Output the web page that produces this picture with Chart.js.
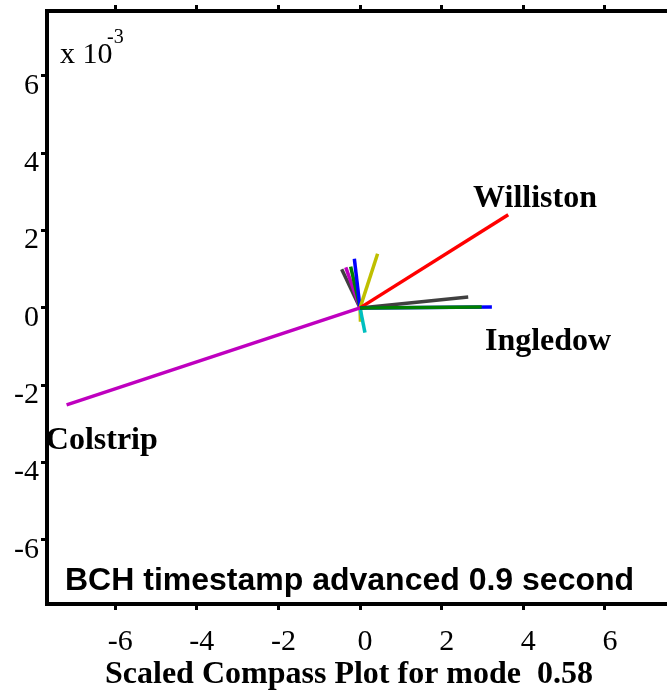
<!DOCTYPE html>
<html>
<head>
<meta charset="utf-8">
<script src="https://cdn.jsdelivr.net/npm/chart.js@4.4.1/dist/chart.umd.min.js"></script>
<style>
html, body { margin: 0; padding: 0; background: #fff; overflow: hidden; }
#wrap { width: 667px; height: 692px; position: relative; }
</style>
</head>
<body>
<div id="wrap"><canvas id="chart"></canvas></div>
<script>
// compass vectors (x 10^-3), first one is drawn on top
const vecNames = ['Ingledow', 'Ingledow b', 'Ingledow c', 'Williston', 'Colstrip', 'v6', 'v7', 'v8', 'v9', 'v10', 'v11', 'v12'];
const tipX = [2.98, 3.23, 2.65, 3.63, -7.19, 0.12, 0.01, 0.43, -0.14, -0.23, -0.35, -0.45];
const tipY = [0.02, 0.02, 0.28, 2.41, -2.51, -0.64, -0.36, 1.40, 1.27, 1.07, 1.05, 1.00];
const vecColors = ['#008000', '#0000ff', '#404040', '#ff0000', '#bf00bf', '#00bfbf', '#bfbf00', '#bfbf00', '#0000ff', '#008000', '#bf00bf', '#404040'];
const tickVals = [-6, -4, -2, 0, 2, 4, 6];

const xMin = -7.67, xMax = 7.52, yMin = -7.66, yMax = 7.68;

// text labels (data units, left / baseline)
const stationLabels = [
    { text: 'Williston', x: 2.77, y: 2.61 },
    { text: 'Ingledow', x: 3.06, y: -1.09 },
    { text: 'Colstrip', x: -7.70, y: -3.65 }
];

const datasets = vecNames.map((name, i) => ({
    label: name,
    data: [{ x: 0, y: 0 }, { x: tipX[i], y: tipY[i] }],
    borderColor: vecColors[i],
    borderWidth: 3.5,
    showLine: true,
    pointRadius: 0,
    fill: false
}));

const setTicks = (axis) => { axis.ticks = tickVals.map(v => ({ value: v })); };

// fixed axis sizes, no extra padding for the end labels
const fixSize = (w, h) => (s) => {
    if (w !== null) s.width = w;
    if (h !== null) s.height = h;
    s.paddingTop = 0; s.paddingBottom = 0; s.paddingLeft = 0; s.paddingRight = 0;
};

const gridOpts = {
    display: true,
    drawOnChartArea: false,
    drawTicks: true,
    tickLength: 6,
    tickWidth: 3,
    tickColor: '#000',
    color: '#000',
    lineWidth: 3
};

const textPlugin = {
    id: 'texts',
    afterDatasetsDraw(chart) {
        const { ctx, chartArea, scales } = chart;
        ctx.save();
        ctx.fillStyle = '#000';
        ctx.textAlign = 'left';
        ctx.textBaseline = 'alphabetic';
        ctx.font = 'bold 32px "Liberation Serif"';
        stationLabels.forEach(l => {
            ctx.fillText(l.text, scales.x.getPixelForValue(l.x), scales.y.getPixelForValue(l.y));
        });
        ctx.font = '30px "Liberation Serif"';
        ctx.fillText('x 10', chartArea.left + 13, chartArea.top + 52);
        ctx.font = '20px "Liberation Serif"';
        ctx.fillText('-3', chartArea.left + 60, chartArea.top + 32);
        ctx.font = 'bold 32px "Liberation Sans"';
        ctx.fillText('BCH timestamp advanced 0.9 second', chartArea.left + 18, chartArea.bottom - 14);
        ctx.restore();
    }
};

new Chart(document.getElementById('chart'), {
    type: 'scatter',
    data: { datasets },
    options: {
        responsive: true,
        maintainAspectRatio: false,
        animation: false,
        layout: { padding: 0 },
        plugins: { legend: { display: false }, tooltip: { enabled: false } },
        scales: {
            x: {
                type: 'linear', position: 'bottom', min: xMin, max: xMax,
                afterBuildTicks: setTicks,
                afterFit: fixSize(null, 88),
                grid: gridOpts,
                border: { display: true, color: '#000', width: 4 },
                ticks: { font: { family: 'Liberation Serif', size: 30 }, color: '#000', padding: 14, labelOffset: 5, maxRotation: 0 },
                title: {
                    display: true, text: 'Scaled Compass Plot for mode  0.58  ', color: '#000',
                    font: { family: 'Liberation Serif', size: 32, weight: 'bold', lineHeight: 1.1 },
                    padding: { top: 0, bottom: 0 }
                }
            },
            x2: {
                type: 'linear', position: 'top', min: xMin, max: xMax,
                afterBuildTicks: setTicks,
                afterFit: fixSize(null, 11),
                grid: gridOpts,
                border: { display: true, color: '#000', width: 4 },
                ticks: { display: false }
            },
            y: {
                type: 'linear', position: 'left', min: yMin, max: yMax,
                afterBuildTicks: setTicks,
                afterFit: fixSize(47, null),
                grid: gridOpts,
                border: { display: true, color: '#000', width: 4 },
                ticks: { font: { family: 'Liberation Serif', size: 30 }, color: '#000', padding: 2, labelOffset: 10 }
            }
        }
    },
    plugins: [textPlugin]
});
</script>
</body>
</html>
